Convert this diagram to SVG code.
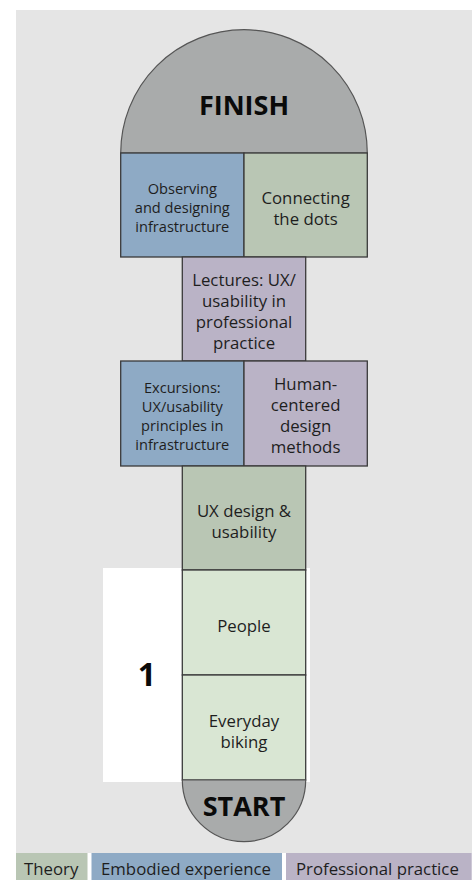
<svg xmlns="http://www.w3.org/2000/svg" width="475" height="880" viewBox="0 0 475 880">
  <style>
    .cell { stroke: #3a3a3a; stroke-width: 1.3; }
    .cap { fill: #a9abab; stroke: #555; stroke-width: 1.2; }
    .theory { fill: #b9c6b4; }
    .body { fill: #8eaac5; }
    .prof { fill: #bab3c6; }
    .light { fill: #d9e6d3; }
    text { font-family: "Open Sans", "Noto Sans", sans-serif; fill: #1e1e1e; text-anchor: middle; }
    .s { font-size: 14.6px; }
    .m { font-size: 16.8px; }
    .big { font-size: 27px; font-weight: 700; fill: #0a0a0a; }
    .leg { font-size: 16.8px; text-anchor: start; }
  </style>

  <!-- board background -->
  <rect x="16" y="10" width="456" height="843" fill="#e5e5e5"/>
  <!-- highlighted section -->
  <rect x="103" y="568" width="207" height="214" fill="#ffffff"/>

  <g id="finish">
    <path class="cap" d="M120.7 153 A123.3 123.3 0 0 1 367.3 153 Z"/>
    <text class="big" x="244" y="115">FINISH</text>
  </g>

  <g id="observing">
    <rect class="cell body" x="120.7" y="153" width="123.3" height="104"/>
    <text class="s" x="182.3" y="194">Observing</text>
    <text class="s" x="182.3" y="213">and designing</text>
    <text class="s" x="182.3" y="232">infrastructure</text>
  </g>
  <g id="connecting">
    <rect class="cell theory" x="244" y="153" width="123.3" height="104"/>
    <text class="m" x="305.6" y="204">Connecting</text>
    <text class="m" x="305.6" y="225">the dots</text>
  </g>

  <g id="lectures">
    <rect class="cell prof" x="182.3" y="257" width="123.4" height="104"/>
    <text class="m" x="244" y="286">Lectures: UX/</text>
    <text class="m" x="244" y="307">usability in</text>
    <text class="m" x="244" y="328">professional</text>
    <text class="m" x="244" y="349">practice</text>
  </g>

  <g id="excursions">
    <rect class="cell body" x="120.7" y="361" width="123.3" height="105"/>
    <text class="s" x="182.3" y="393">Excursions:</text>
    <text class="s" x="182.3" y="412">UX/usability</text>
    <text class="s" x="182.3" y="431">principles in</text>
    <text class="s" x="182.3" y="450">infrastructure</text>
  </g>
  <g id="hcd">
    <rect class="cell prof" x="244" y="361" width="123.3" height="105"/>
    <text class="m" x="305.6" y="390">Human-</text>
    <text class="m" x="305.6" y="411">centered</text>
    <text class="m" x="305.6" y="432">design</text>
    <text class="m" x="305.6" y="453">methods</text>
  </g>

  <g id="ux-design">
    <rect class="cell theory" x="182.3" y="466" width="123.4" height="104"/>
    <text class="m" x="244" y="517">UX design &amp;</text>
    <text class="m" x="244" y="538">usability</text>
  </g>

  <g id="people">
    <rect class="cell light" x="182.3" y="570" width="123.4" height="105"/>
    <text class="m" x="244" y="632">People</text>
  </g>

  <g id="biking">
    <rect class="cell light" x="182.3" y="675" width="123.4" height="105"/>
    <text class="m" x="244" y="727">Everyday</text>
    <text class="m" x="244" y="748">biking</text>
  </g>

  <g id="start">
    <path class="cap" d="M182.3 780 A61.7 61.7 0 0 0 305.7 780 Z"/>
    <text class="big" x="244" y="816">START</text>
  </g>

  <g id="section-label">
    <text x="147" y="686" style="font-size:32px;font-weight:700;fill:#0a0a0a">1</text>
  </g>

  <!-- connectors: none, tiles abut directly -->
  <g id="connectors"/>

  <g id="legend">
    <rect class="theory" x="16" y="853" width="71.5" height="27"/>
    <text class="leg" x="24" y="875">Theory</text>
    <rect class="body" x="91.5" y="853" width="190.5" height="27"/>
    <text class="leg" x="101" y="875">Embodied experience</text>
    <rect class="prof" x="286" y="853" width="185.7" height="27"/>
    <text class="leg" x="296" y="875">Professional practice</text>
  </g>
</svg>
